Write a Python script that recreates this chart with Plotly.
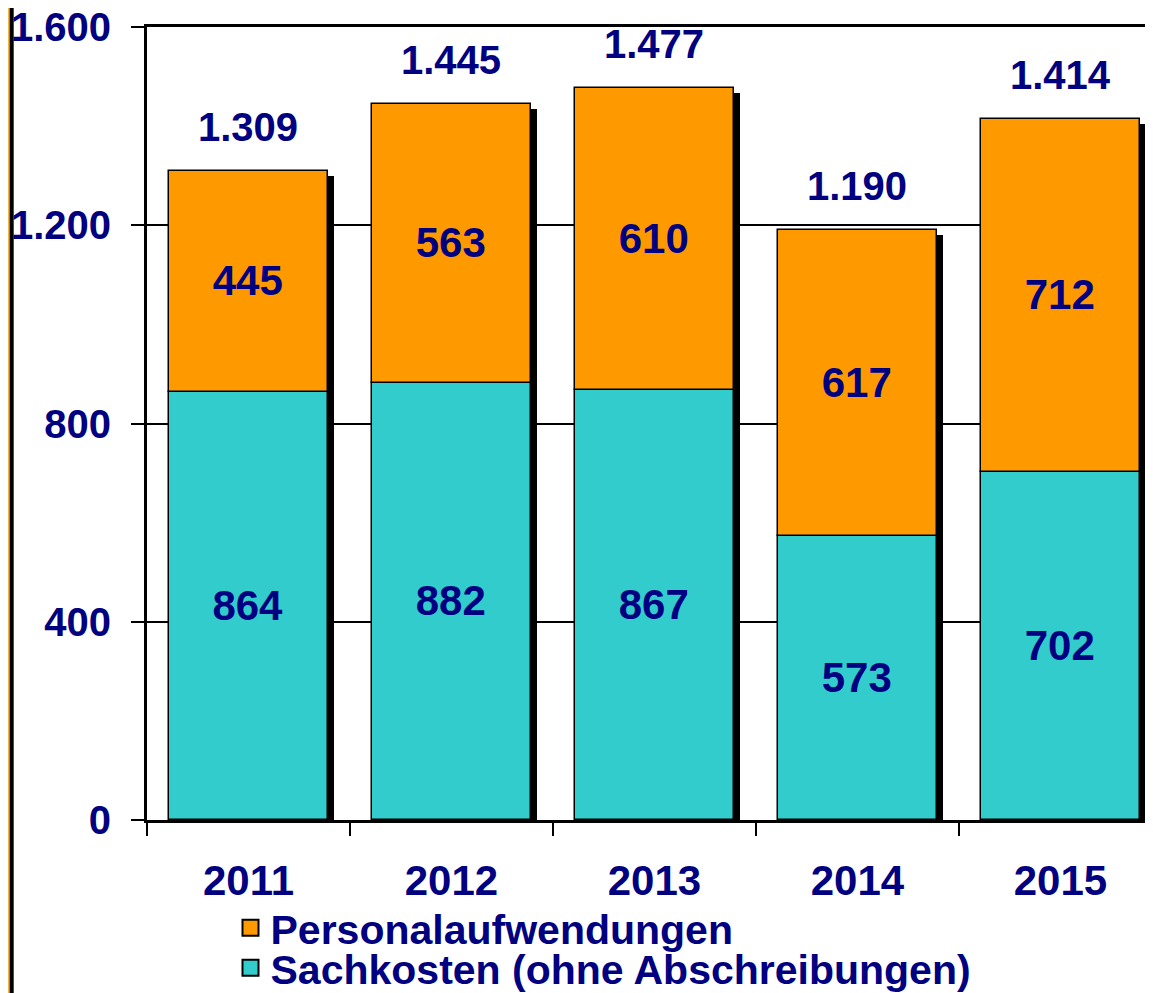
import plotly.graph_objects as go

years = ["2011", "2012", "2013", "2014", "2015"]
sachkosten = [864, 882, 867, 573, 702]
personal = [445, 563, 610, 617, 712]
totals = [1309, 1445, 1477, 1190, 1414]

NAVY = "#000080"
ORANGE = "#FF9900"
CYAN = "#33CCCC"
FONT = "Liberation Sans, Arial, sans-serif"
BAR_W = 0.78

fig = go.Figure()

# drop shadow behind the bars
fig.add_trace(go.Bar(
    x=years, y=totals, base=[-10] * len(totals),
    width=BAR_W, offset=-BAR_W / 2 + 0.032,
    marker=dict(color="black", line=dict(width=0)),
    hoverinfo="skip", showlegend=False,
))
fig.add_trace(go.Bar(
    x=years, y=sachkosten, base=[0] * len(years),
    width=BAR_W, offset=-BAR_W / 2,
    marker=dict(color=CYAN, line=dict(color="black", width=1.5)),
    text=[str(v) for v in sachkosten], textposition="inside",
    insidetextanchor="middle", textangle=0, constraintext="none",
    insidetextfont=dict(family=FONT, size=42, color=NAVY, weight="bold"),
    showlegend=False, name="Sachkosten (ohne Abschreibungen)",
))
fig.add_trace(go.Bar(
    x=years, y=personal, base=sachkosten,
    width=BAR_W, offset=-BAR_W / 2,
    marker=dict(color=ORANGE, line=dict(color="black", width=1.5)),
    text=[str(v) for v in personal], textposition="inside",
    insidetextanchor="middle", textangle=0, constraintext="none",
    insidetextfont=dict(family=FONT, size=42, color=NAVY, weight="bold"),
    showlegend=False, name="Personalaufwendungen",
))

# legend entries, one legend each so the rows can sit closer together
legend_items = [("Personalaufwendungen", ORANGE, "legend"),
                ("Sachkosten (ohne Abschreibungen)", CYAN, "legend2")]
for name, col, lg in legend_items:
    fig.add_trace(go.Scatter(
        x=[None], y=[None], mode="markers", name=name, legend=lg,
        marker=dict(symbol="square", size=16, color=col, line=dict(color="black", width=2)),
    ))

for i, t in enumerate(totals):
    fig.add_annotation(
        x=i, y=t, xref="x", yref="y", text=f"{t:,}".replace(",", "."), showarrow=False,
        yanchor="bottom", yshift=20,
        font=dict(family=FONT, size=40, color=NAVY, weight="bold"),
    )

# decorative left border
fig.add_shape(type="line", xref="paper", yref="paper", x0=-0.1372, x1=-0.1372, y0=-0.25, y1=1.05,
              line=dict(color="#F5B342", width=2))
fig.add_shape(type="line", xref="paper", yref="paper", x0=-0.1345, x1=-0.1345, y0=-0.25, y1=1.05,
              line=dict(color="black", width=4))

legend_style = dict(
    x=0.083, xanchor="left", yanchor="middle",
    font=dict(family=FONT, size=41, color=NAVY, weight="bold"),
    itemsizing="trace", bgcolor="rgba(0,0,0,0)",
)

fig.update_layout(
    width=1145, height=985,
    margin=dict(l=139, r=0, t=19, b=173, autoexpand=False),
    paper_bgcolor="white", plot_bgcolor="white",
    barmode="overlay", bargap=0,
    separators=",.",
    font=dict(family=FONT, size=38, color=NAVY, weight="bold"),
    showlegend=True,
    legend=dict(y=-0.1362, **legend_style),
    legend2=dict(y=-0.1867, **legend_style),
)
fig.update_xaxes(
    type="category", range=[-0.5, 4.456], automargin=False,
    showline=True, linecolor="black", linewidth=3, mirror=True,
    ticks="outside", tickson="boundaries", ticklen=13, tickwidth=2, tickcolor="black",
    ticklabelstandoff=22, showgrid=False,
    tickfont=dict(family=FONT, size=42, color=NAVY, weight="bold"),
)
fig.update_yaxes(
    range=[0, 1600], tickvals=[0, 400, 800, 1200, 1600], tickformat=",d", automargin=False,
    showline=True, linecolor="black", linewidth=3,
    ticks="outside", ticklen=13, tickwidth=2, tickcolor="black",
    ticklabelstandoff=12, ticklabeloverflow="allow",
    showgrid=True, gridcolor="black", gridwidth=1.5, zeroline=False,
    tickfont=dict(family=FONT, size=40, color=NAVY, weight="bold"),
)

fig.write_html("out.html")
